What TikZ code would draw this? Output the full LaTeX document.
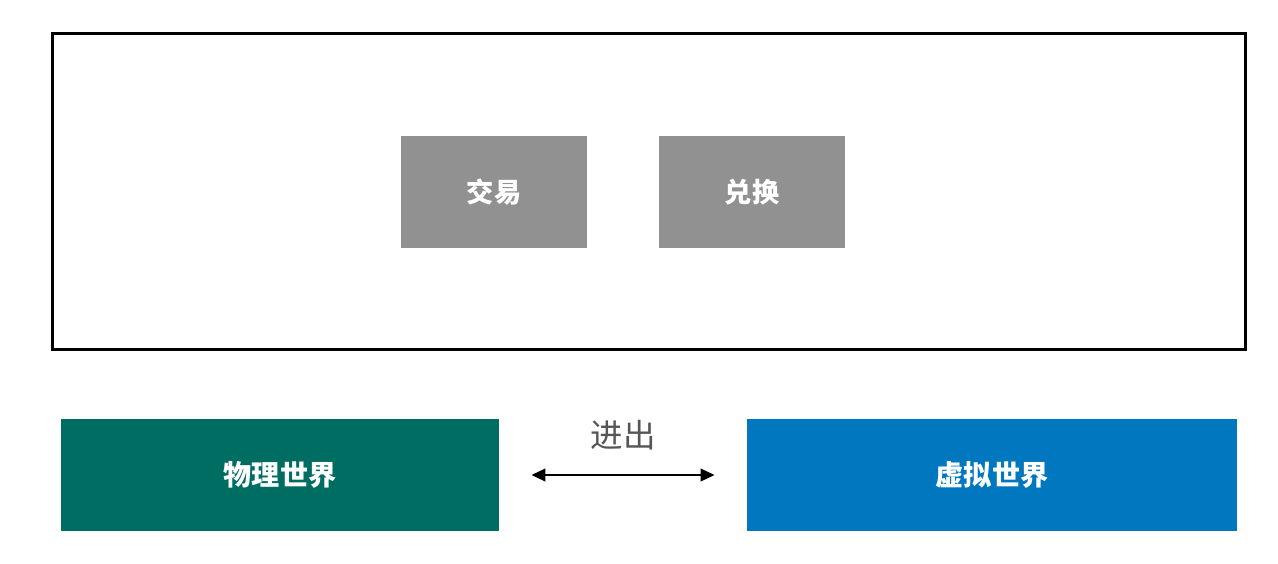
\documentclass[tikz,border=0pt]{standalone}
\usepackage{fontspec}
\setmainfont{Noto Sans CJK SC}
\usetikzlibrary{arrows.meta, positioning}

\definecolor{boxgray}{HTML}{919191}
\definecolor{physgreen}{HTML}{006D62}
\definecolor{virtblue}{HTML}{0077BF}
\definecolor{labelgray}{HTML}{555555}

\begin{document}
\begin{tikzpicture}[x=0.02cm, y=-0.02cm,
    frame/.style={rectangle, draw, line width=1.7pt, minimum width=23.88cm, minimum height=6.34cm, inner sep=0},
    action/.style={rectangle, fill=boxgray, text=white, font=\bfseries\fontsize{15.5}{18}\selectfont, minimum width=3.72cm, minimum height=2.24cm, inner sep=0},
    world/.style={rectangle, text=white, font=\bfseries\fontsize{16}{19}\selectfont, minimum height=2.24cm, inner sep=0}]

    \useasboundingbox (0,0) rectangle (1278,564);

    \node[frame] (market) at (649,191.5) {};
    \node[action] (trade) at (494,192) {交易};
    \node[action] (swap) at (752,192) {兑换};

    \node[world, fill=physgreen, minimum width=8.76cm] (phys) at (280,475) {物理世界};
    \node[world, fill=virtblue, minimum width=9.8cm] (virt) at (992,475) {虚拟世界};

    \draw[{Triangle[length=8pt,width=7pt]}-{Triangle[length=8pt,width=7pt]}, line width=1.6pt, shorten <=0.64cm, shorten >=0.64cm]
        (phys) -- node[above=0.36cm, text=labelgray, font=\fontsize{18.5}{22}\selectfont] (inout) {进出} (virt);
\end{tikzpicture}
\end{document}
